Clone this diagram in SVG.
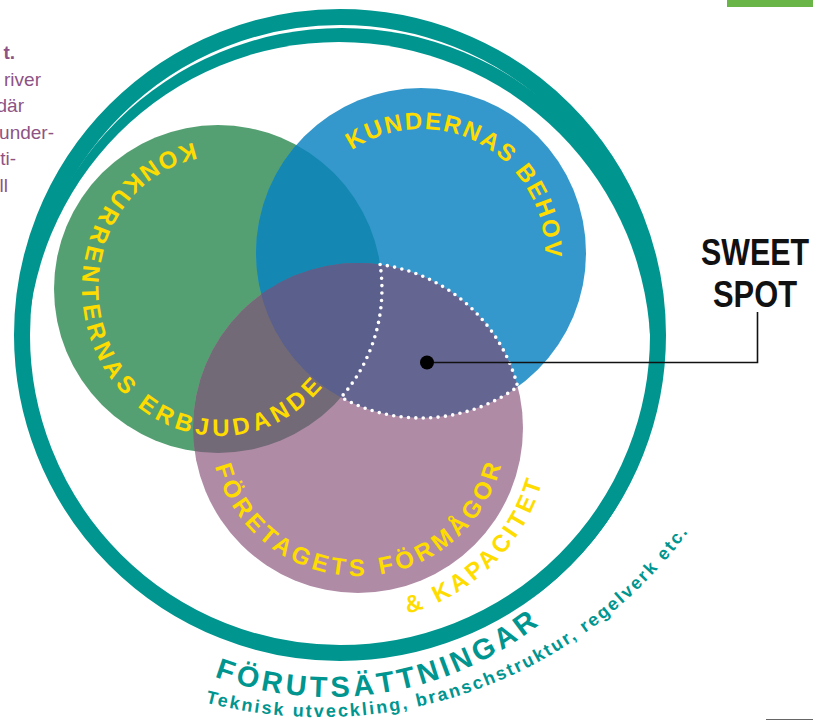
<svg xmlns="http://www.w3.org/2000/svg" width="813" height="722" viewBox="0 0 813 722">
<style>
  .lbl { font-family: "Liberation Sans", Arial, sans-serif; font-weight: bold; font-size: 24px; fill: #ffdc00; }
  .cond { font-family: "Liberation Sans", Arial, sans-serif; font-weight: bold; fill: #00958f; }
  .side { font-family: "Liberation Sans", Arial, sans-serif; font-size: 19px; fill: #8e5384; }
  .big { font-family: "Liberation Sans", Arial, sans-serif; font-weight: bold; font-size: 36px; fill: #111; text-anchor: middle; }
</style>
<defs>
  <clipPath id="cpG"><circle cx="218" cy="289" r="164"/></clipPath>
  <clipPath id="cpB"><circle cx="421" cy="253" r="165"/></clipPath>
  <clipPath id="cpOuter"><circle cx="340" cy="335" r="326"/></clipPath>
  <mask id="mBand" maskUnits="userSpaceOnUse" x="0" y="0" width="813" height="722">
    <circle cx="341.9" cy="346.3" r="318.3" fill="#fff"/>
    <circle cx="339" cy="353.6" r="311.6" fill="#000"/>
  </mask>
  <!-- label baselines -->
  <path id="tpG" d="M193.7 142.7 A138 148 0 1 0 325.7 383.1"/>
  <path id="tpB" d="M351.7 150.2 A124 124 0 0 1 544.7 261.7"/>
  <path id="tpP" d="M215 466.3 A148 148 0 0 0 502.2 461.3"/>
  <path id="tpK" d="M407.7 613.5 A192 192 0 0 0 542.6 480.9"/>
  <path id="tpF" d="M214.4 676.6 A338 338 0 0 0 540.4 623.5"/>
  <path id="tpT" d="M205.3 702.4 A458 458 0 0 0 689 531"/>
</defs>

<rect width="813" height="722" fill="#fff"/>

<!-- page furniture -->
<rect x="727" y="0" width="86" height="7" fill="#6ab547"/>
<line x1="766" y1="719.5" x2="813" y2="719.5" stroke="#666" stroke-width="1"/>
<g id="sidetext" class="side" text-anchor="end">
  <text x="15" y="59" font-weight="bold">t.</text>
  <text x="41" y="86">river</text>
  <text x="24" y="112">där</text>
  <text x="54" y="139">under-</text>
  <text x="16" y="165">ti-</text>
  <text x="8" y="192">ll</text>
</g>

<!-- outer frame: conditions -->
<g id="forutsattningar">
  <g clip-path="url(#cpOuter)">
    <rect width="813" height="722" fill="#00958f" mask="url(#mBand)"/>
  </g>
  <circle cx="340" cy="335" r="318" fill="none" stroke="#00958f" stroke-width="16"/>
  <text class="cond" font-size="29"><textPath href="#tpF" textLength="343" lengthAdjust="spacing">FÖRUTSÄTTNINGAR</textPath></text>
  <text class="cond" font-size="18"><textPath href="#tpT" textLength="543" lengthAdjust="spacing">Teknisk utveckling, branschstruktur, regelverk etc.</textPath></text>
</g>

<!-- three sets -->
<g id="konkurrenter">
  <circle cx="218" cy="289" r="164" fill="#55a072"/>
</g>
<g id="kunder">
  <circle cx="421" cy="253" r="165" fill="#3498cc"/>
</g>
<g id="foretaget">
  <circle cx="358" cy="428" r="165" fill="#b08ba6"/>
</g>

<!-- overlaps -->
<g id="overlaps">
  <circle cx="421" cy="253" r="165" fill="#1487b3" clip-path="url(#cpG)"/>
  <circle cx="358" cy="428" r="165" fill="#726a76" clip-path="url(#cpG)"/>
  <circle cx="358" cy="428" r="165" fill="#656592" clip-path="url(#cpB)"/>
  <g clip-path="url(#cpG)">
    <circle cx="358" cy="428" r="165" fill="#5a608b" clip-path="url(#cpB)"/>
  </g>
</g>

<!-- set labels -->
<g id="labels" class="lbl">
  <text><textPath href="#tpG" textLength="540" lengthAdjust="spacing">KONKURRENTERNAS ERBJUDANDE</textPath></text>
  <text><textPath href="#tpB" textLength="272" lengthAdjust="spacing">KUNDERNAS BEHOV</textPath></text>
  <text><textPath href="#tpP" textLength="388" lengthAdjust="spacing">FÖRETAGETS FÖRMÅGOR</textPath></text>
  <text><textPath href="#tpK" textLength="196" lengthAdjust="spacing">&amp; KAPACITET</textPath></text>
</g>

<!-- sweet spot -->
<g id="sweetspot">
  <path d="M380.1 264.5 A165 165 0 0 1 517.7 386.7 A165 165 0 0 1 341.1 397.3 A164 164 0 0 0 380.1 264.5 Z" fill="none" stroke="#fff" stroke-width="3.6" stroke-linecap="round" stroke-dasharray="0 7.4"/>
  <text class="big" x="755" y="265" textLength="108" lengthAdjust="spacingAndGlyphs">SWEET</text>
  <text class="big" x="755" y="307" textLength="84" lengthAdjust="spacingAndGlyphs">SPOT</text>
</g>

<g id="connectors">
  <path d="M427 362.5 H757.5 V312" fill="none" stroke="#111" stroke-width="1.6"/>
  <circle cx="427" cy="362.5" r="7" fill="#000"/>
</g>
</svg>
